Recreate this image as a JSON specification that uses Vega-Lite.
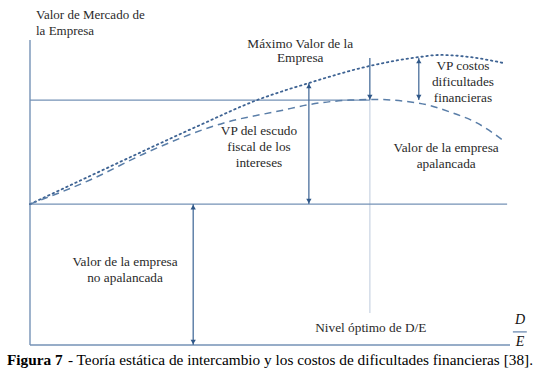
{
  "$schema": "https://vega.github.io/schema/vega-lite/v6.json",
  "width": 480,
  "height": 305,
  "autosize": {"type": "none"},
  "padding": {"left": 30, "top": 40, "right": 36, "bottom": 36},
  "background": "white",
  "config": {"view": {"stroke": null}},
  "datasets": {
    "curves": [
      {"series": "max", "x": 0, "y": 46.2},
      {"series": "max", "x": 12.5, "y": 55.4},
      {"series": "max", "x": 25.0, "y": 64.6},
      {"series": "max", "x": 35.4, "y": 72.1},
      {"series": "max", "x": 47.3, "y": 80.3},
      {"series": "max", "x": 58.1, "y": 85.9},
      {"series": "max", "x": 70.8, "y": 91.5},
      {"series": "max", "x": 81.0, "y": 94.4},
      {"series": "max", "x": 85.4, "y": 95.1},
      {"series": "max", "x": 91.7, "y": 94.4},
      {"series": "max", "x": 98.5, "y": 92.5},
      {"series": "lev", "x": 0, "y": 46.2},
      {"series": "lev", "x": 12.5, "y": 54.1},
      {"series": "lev", "x": 25.0, "y": 63.6},
      {"series": "lev", "x": 40.4, "y": 72.8},
      {"series": "lev", "x": 52.7, "y": 77.0},
      {"series": "lev", "x": 57.7, "y": 78.7},
      {"series": "lev", "x": 66.7, "y": 80.3},
      {"series": "lev", "x": 71.9, "y": 80.5},
      {"series": "lev", "x": 81.0, "y": 79.3},
      {"series": "lev", "x": 87.5, "y": 76.4},
      {"series": "lev", "x": 93.1, "y": 72.8},
      {"series": "lev", "x": 98.5, "y": 67.2}
    ],
    "frame": [
      {"x": 0, "x2": 0, "y": 0, "y2": 100},
      {"x": 0, "x2": 100, "y": 0, "y2": 0},
      {"x": 0, "x2": 99.4, "y": 46.2, "y2": 46.2},
      {"x": 0, "x2": 70.8, "y": 80.3, "y2": 80.3},
      {"x": 100.6, "x2": 103.5, "y": 4.3, "y2": 4.3}
    ],
    "guide": [
      {"x": 70.8, "x2": 70.8, "y": 10.5, "y2": 80.3}
    ],
    "arrows": [
      {"x": 70.8, "y": 94.1, "y2": 80.3},
      {"x": 58.1, "y": 85.9, "y2": 46.2},
      {"x": 81.0, "y": 94.1, "y2": 80.3},
      {"x": 34.0, "y": 46.2, "y2": 0}
    ],
    "headsDown": [
      {"x": 70.8, "y": 80.3},
      {"x": 58.1, "y": 46.2},
      {"x": 81.0, "y": 80.3},
      {"x": 34.0, "y": 0}
    ],
    "headsUp": [
      {"x": 58.1, "y": 85.9},
      {"x": 81.0, "y": 94.1},
      {"x": 34.0, "y": 46.2}
    ],
    "labels": [
      {"x": 56.3, "y": 98.7, "t": "Máximo Valor de la"},
      {"x": 56.3, "y": 94.1, "t": "Empresa"},
      {"x": 90.2, "y": 91.5, "t": "VP costos"},
      {"x": 90.2, "y": 86.2, "t": "dificultades"},
      {"x": 90.2, "y": 81.0, "t": "financieras"},
      {"x": 47.7, "y": 70.2, "t": "VP del escudo"},
      {"x": 47.7, "y": 64.9, "t": "fiscal de los"},
      {"x": 47.7, "y": 59.7, "t": "intereses"},
      {"x": 86.7, "y": 64.6, "t": "Valor de la empresa"},
      {"x": 86.7, "y": 59.3, "t": "apalancada"},
      {"x": 19.8, "y": 27.2, "t": "Valor de la empresa"},
      {"x": 19.8, "y": 22.0, "t": "no apalancada"},
      {"x": 71.0, "y": 5.6, "t": "Nivel óptimo de D/E"}
    ],
    "ytitle": [
      {"x": 1.25, "y": 108.2, "t": "Valor de Mercado de"},
      {"x": 1.25, "y": 103.0, "t": "la Empresa"}
    ],
    "frac": [
      {"x": 102.1, "y": 8.2, "t": "D"},
      {"x": 102.1, "y": 1.0, "t": "E"}
    ],
    "capBold": [
      {"x": -4.8, "y": -4.9, "t": "Figura 7"}
    ],
    "capText": [
      {"x": 7.9, "y": -4.9, "t": "- Teoría estática de intercambio y los costos de dificultades financieras [38]."}
    ]
  },
  "layer": [
    {
      "data": {"name": "guide"},
      "mark": {"type": "rule", "color": "#d3dce8", "strokeWidth": 1.5},
      "encoding": {
        "x": {"field": "x", "type": "quantitative", "scale": {"domain": [0, 100], "nice": false, "zero": false}, "axis": null},
        "x2": {"field": "x2"},
        "y": {"field": "y", "type": "quantitative", "scale": {"domain": [0, 100], "nice": false, "zero": false}, "axis": null},
        "y2": {"field": "y2"}
      }
    },
    {
      "data": {"name": "frame"},
      "mark": {"type": "rule", "color": "#7592b6", "strokeWidth": 1.4},
      "encoding": {
        "x": {"field": "x", "type": "quantitative"},
        "x2": {"field": "x2"},
        "y": {"field": "y", "type": "quantitative"},
        "y2": {"field": "y2"}
      }
    },
    {
      "data": {"name": "curves"},
      "transform": [{"filter": "datum.series === 'max'"}],
      "mark": {"type": "line", "color": "#3e6393", "strokeWidth": 1.8, "strokeDash": [1.5, 3.5], "interpolate": "monotone", "strokeCap": "round"},
      "encoding": {
        "x": {"field": "x", "type": "quantitative"},
        "y": {"field": "y", "type": "quantitative"}
      }
    },
    {
      "data": {"name": "curves"},
      "transform": [{"filter": "datum.series === 'lev'"}],
      "mark": {"type": "line", "color": "#5a7ea8", "strokeWidth": 1.5, "strokeDash": [7, 5], "interpolate": "monotone"},
      "encoding": {
        "x": {"field": "x", "type": "quantitative"},
        "y": {"field": "y", "type": "quantitative"}
      }
    },
    {
      "data": {"name": "arrows"},
      "mark": {"type": "rule", "color": "#4a6f9c", "strokeWidth": 1.3},
      "encoding": {
        "x": {"field": "x", "type": "quantitative"},
        "y": {"field": "y", "type": "quantitative"},
        "y2": {"field": "y2"}
      }
    },
    {
      "data": {"name": "headsDown"},
      "mark": {"type": "point", "shape": "triangle-down", "filled": true, "color": "#2f5788", "size": 28, "opacity": 1, "yOffset": -3},
      "encoding": {
        "x": {"field": "x", "type": "quantitative"},
        "y": {"field": "y", "type": "quantitative"}
      }
    },
    {
      "data": {"name": "headsUp"},
      "mark": {"type": "point", "shape": "triangle-up", "filled": true, "color": "#2f5788", "size": 28, "opacity": 1, "yOffset": 3},
      "encoding": {
        "x": {"field": "x", "type": "quantitative"},
        "y": {"field": "y", "type": "quantitative"}
      }
    },
    {
      "data": {"name": "labels"},
      "mark": {"type": "text", "font": "Liberation Serif", "fontSize": 13.3, "color": "#2a2a2a", "align": "center", "baseline": "middle"},
      "encoding": {
        "x": {"field": "x", "type": "quantitative"},
        "y": {"field": "y", "type": "quantitative"},
        "text": {"field": "t"}
      }
    },
    {
      "data": {"name": "ytitle"},
      "mark": {"type": "text", "font": "Liberation Serif", "fontSize": 13, "color": "#2a2a2a", "align": "left", "baseline": "middle"},
      "encoding": {
        "x": {"field": "x", "type": "quantitative"},
        "y": {"field": "y", "type": "quantitative"},
        "text": {"field": "t"}
      }
    },
    {
      "data": {"name": "frac"},
      "mark": {"type": "text", "font": "Liberation Serif", "fontSize": 14, "fontStyle": "italic", "color": "#111111", "align": "center", "baseline": "middle"},
      "encoding": {
        "x": {"field": "x", "type": "quantitative"},
        "y": {"field": "y", "type": "quantitative"},
        "text": {"field": "t"}
      }
    },
    {
      "data": {"name": "capBold"},
      "mark": {"type": "text", "font": "Liberation Serif", "fontSize": 15.3, "fontWeight": "bold", "color": "#000000", "align": "left", "baseline": "middle"},
      "encoding": {
        "x": {"field": "x", "type": "quantitative"},
        "y": {"field": "y", "type": "quantitative"},
        "text": {"field": "t"}
      }
    },
    {
      "data": {"name": "capText"},
      "mark": {"type": "text", "font": "Liberation Serif", "fontSize": 15.3, "color": "#000000", "align": "left", "baseline": "middle"},
      "encoding": {
        "x": {"field": "x", "type": "quantitative"},
        "y": {"field": "y", "type": "quantitative"},
        "text": {"field": "t"}
      }
    }
  ]
}
